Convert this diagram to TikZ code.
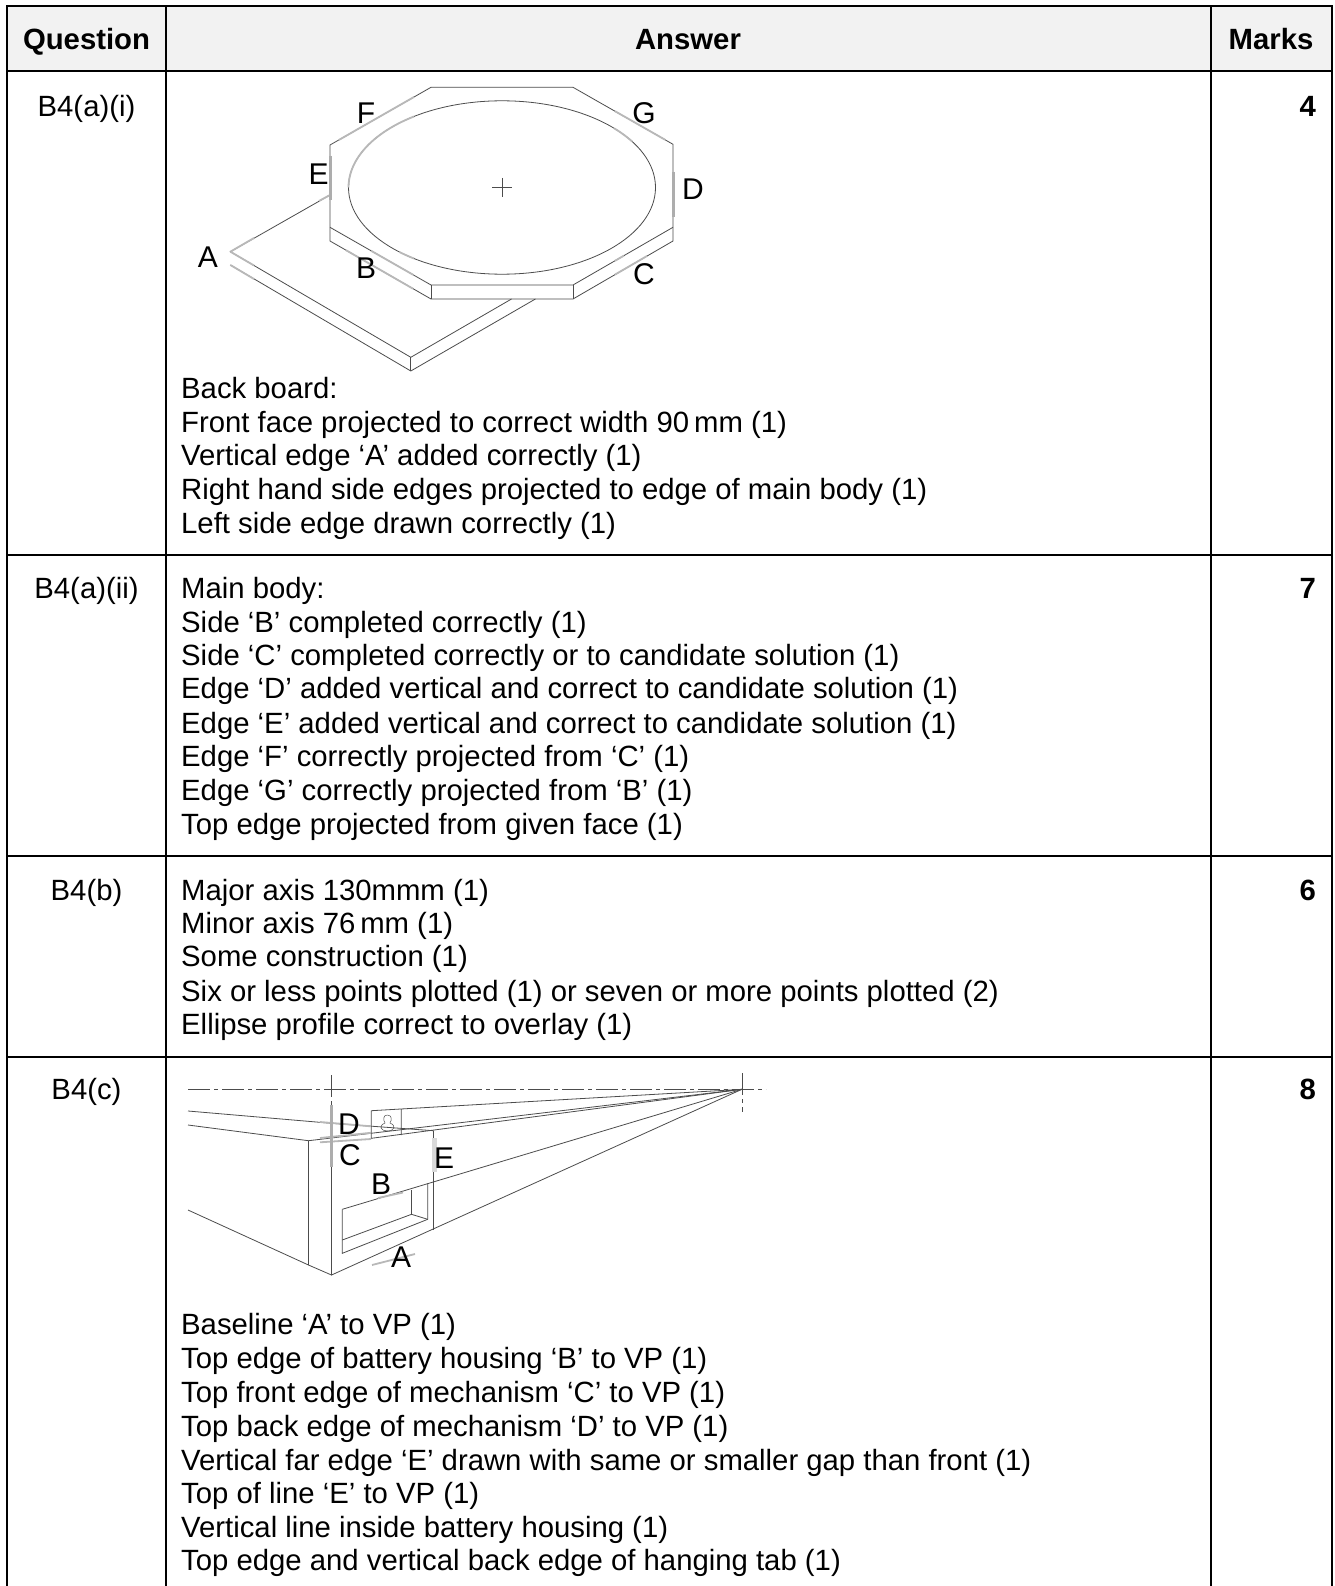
\documentclass[tikz,border=0pt]{standalone}
\usepackage{fontspec}
\setmainfont{Liberation Sans}
\tikzset{
  x=1pt,y=-1pt,
  rule/.style={draw=black,line width=1.6pt},
  ink/.style={draw=black!70,line width=0.8pt},
  fine/.style={draw=black!70,line width=0.5pt},
  hilite/.style={draw=black!28,line width=1.8pt},
  hilitethick/.style={draw=black!32,line width=3pt},
  hilitewide/.style={draw=black!15,line width=5pt},
  dashdot/.style={draw=black!70,line width=0.7pt,dash pattern=on 22pt off 4pt on 4pt off 4pt},
  body/.style={inner sep=0pt,anchor=base west,font=\fontsize{29.3}{33}\selectfont},
  cell/.style={inner sep=0pt,anchor=base,font=\fontsize{29.3}{33}\selectfont},
  head/.style={inner sep=0pt,anchor=base,font=\fontsize{29.3}{33}\selectfont\bfseries},
  score/.style={inner sep=0pt,anchor=base east,font=\fontsize{29.3}{33}\selectfont\bfseries},
  tag/.style={inner sep=0pt,anchor=center,font=\fontsize{30}{33}\selectfont}
}
\begin{document}
\begin{tikzpicture}
\useasboundingbox (0,0) rectangle (1334,1586);
\fill[white] (0,0) rectangle (1334,1586);
\fill[black!5] (7,6) rectangle (1332,71);
% table rules
\coordinate (tl) at (7,6); \coordinate (tr) at (1332,6);
\coordinate (bl) at (7,1586); \coordinate (br) at (1332,1586);
\draw[rule] (bl) -- (tl) -- (tr) -- (br);
\draw[rule] (166,6) -- (166,1586);
\draw[rule] (1211,6) -- (1211,1586);
\draw[rule] (7,71) -- (1332,71);
\draw[rule] (7,555) -- (1332,555);
\draw[rule] (7,856) -- (1332,856);
\draw[rule] (7,1057) -- (1332,1057);
% header
\node[head] (hq) at (86.5,50) {Question};
\node[head] (ha) at (688,50) {Answer};
\node[head] (hm) at (1271,50) {Marks};
% question cells
\node[cell] (q1) at (86.5,117) {B4(a)(i)};
\node[cell] (q2) at (86.5,598.6) {B4(a)(ii)};
\node[cell] (q3) at (86.5,900) {B4(b)};
\node[cell] (q4) at (86.5,1099) {B4(c)};
\node[score] (m1) at (1316,117) {4};
\node[score] (m2) at (1316,598.6) {7};
\node[score] (m3) at (1316,900) {6};
\node[score] (m4) at (1316,1099) {8};
% answers
\node[body] (a1) at (181,398.4) {Back board:};
\node[body] (a2) at (181,432) {Front face projected to correct width 90\,mm (1)};
\node[body] (a3) at (181,465.6) {Vertical edge ‘A’ added correctly (1)};
\node[body] (a4) at (181,499) {Right hand side edges projected to edge of main body (1)};
\node[body] (a5) at (181,533) {Left side edge drawn correctly (1)};
\node[body] (b1) at (181,598.6) {Main body:};
\node[body] (b2) at (181,632) {Side ‘B’ completed correctly (1)};
\node[body] (b3) at (181,665.4) {Side ‘C’ completed correctly or to candidate solution (1)};
\node[body] (b4) at (181,698.8) {Edge ‘D’ added vertical and correct to candidate solution (1)};
\node[body] (b5) at (181,733.1) {Edge ‘E’ added vertical and correct to candidate solution (1)};
\node[body] (b6) at (181,766.5) {Edge ‘F’ correctly projected from ‘C’ (1)};
\node[body] (b7) at (181,800.9) {Edge ‘G’ correctly projected from ‘B’ (1)};
\node[body] (b8) at (181,834.3) {Top edge projected from given face (1)};
\node[body] (c1) at (181,900) {Major axis 130mmm (1)};
\node[body] (c2) at (181,933.4) {Minor axis 76\,mm (1)};
\node[body] (c3) at (181,966.8) {Some construction (1)};
\node[body] (c4) at (181,1001.2) {Six or less points plotted (1) or seven or more points plotted (2)};
\node[body] (c5) at (181,1034.5) {Ellipse profile correct to overlay (1)};
\node[body] (d1) at (181,1334.9) {Baseline ‘A’ to VP (1)};
\node[body] (d2) at (181,1368.3) {Top edge of battery housing ‘B’ to VP (1)};
\node[body] (d3) at (181,1402.6) {Top front edge of mechanism ‘C’ to VP (1)};
\node[body] (d4) at (181,1436) {Top back edge of mechanism ‘D’ to VP (1)};
\node[body] (d5) at (181,1470.4) {Vertical far edge ‘E’ drawn with same or smaller gap than front (1)};
\node[body] (d6) at (181,1503.8) {Top of line ‘E’ to VP (1)};
\node[body] (d7) at (181,1537.2) {Vertical line inside battery housing (1)};
\node[body] (d8) at (181,1570.6) {Top edge and vertical back edge of hanging tab (1)};
% --- isometric drawing
\draw[ink] (330,145) -- (431,87.3) -- (573,87.3) -- (673,144.3) -- (673,241) -- (573,299) -- (431,299) -- (330,241) -- cycle;
\draw[ink] (330,227.3) -- (431,285) -- (573,285) -- (673,227.3);
\draw[ink] (431,285) -- (431,299) (573,285) -- (573,299);
\draw[ink] (502,187.5) ellipse [x radius=153.5,y radius=86.7];
\draw[fine] (492,187.5) -- (512,187.5) (502,178) -- (502,197);
\draw[ink] (330,195) -- (230.4,251.7) -- (410.8,357.3) -- (511.5,299);
\draw[ink] (230.4,265) -- (410.8,371) -- (535.4,299);
\draw[ink] (410.8,357.3) -- (410.8,371);
% highlights
\draw[hilite] (339,139.9) -- (414,97);
\draw[hilite] plot[domain=125:180,smooth] ({502+153.5*cos(\x)},{187.5-86.7*sin(\x)});
\draw[hilite] plot[domain=32:43,smooth] ({502+153.5*cos(\x)},{187.5-86.7*sin(\x)});
\draw[hilite] plot[domain=228:235,smooth] ({502+153.5*cos(\x)},{187.5-86.7*sin(\x)});
\draw[hilite] (615,111.2) -- (665,139.7);
\draw[hilite] (371,250.7) -- (413,274.7) (346,250.2) -- (413,288.7);
\draw[hilite] (615,274.6) -- (647,256) (615,260.8) -- (624,255.6);
\draw[hilite] (230.4,251.7) -- (254,238) (230.4,251.7) -- (254,265.5) (230.4,265) -- (254,279);
\draw[hilite] (319,201) -- (330,195);
\draw[hilitethick] (330,156) -- (330,200);
\draw[hilitethick] (673,172) -- (673,217);
\node[tag] (la) at (208,257) {A};
\node[tag] (lb) at (366,268) {B};
\node[tag] (lc) at (644,274) {C};
\node[tag] (ld) at (693,189) {D};
\node[tag] (le) at (318.6,174) {E};
\node[tag] (lf) at (366,113) {F};
\node[tag] (lg) at (644,113) {G};
% --- perspective drawing
\coordinate (vp) at (741.9,1089.3);
\coordinate (corner) at (331.5,1275);
\coordinate (lt) at (308.5,1140.7);
\coordinate (lb2) at (308.5,1265);
\draw[dashdot] (188,1089.3) -- (766,1089.3);
\draw[dashdot] (331.5,1075) -- (331.5,1123);
\draw[dashdot] (741.9,1073) -- (741.9,1112);
\draw[ink] (188,1125) -- (lt) -- (vp);
\draw[ink] (188,1111) -- (331.5,1123.3) -- (433.5,1130.7);
\draw[ink] (lt) -- (lb2) -- (corner) -- (331.5,1123.3);
\draw[ink] (188,1210) -- (lb2);
\draw[ink] (corner) -- (vp);
\draw[ink] (342.3,1209.3) -- (vp);
\draw[ink] (433.5,1130.7) -- (433.5,1230);
\draw[ink] (342.3,1209.3) -- (342.3,1253.3) -- (427.7,1219.3) -- (427.7,1183.3);
\draw[ink] (342.3,1240) -- (411.5,1214.3) -- (427.7,1219.3) (411.5,1214.3) -- (411.5,1190);
\draw[ink] (371.3,1110.7) -- (vp) (371.3,1110.7) -- (371.3,1138.3) -- (vp) (401.3,1109) -- (401.3,1135);
\draw[fine] (387.3,1115) .. controls (383,1115) and (383,1120) .. (385,1123) .. controls (378,1126) and (381,1131) .. (387.3,1131) .. controls (394,1131) and (397,1126) .. (390,1123) .. controls (392,1120) and (392,1115) .. (387.3,1115) -- cycle;
\draw[hilite] (320,1122) -- (371,1126.3);
\draw[hilite] (320,1142.3) -- (371,1139);
\draw[hilite] (320,1138) -- (371,1132.8);
\draw[hilite] (378,1198) -- (403,1192.5);
\draw[hilite] (372,1265) -- (415,1254);
\draw[hilitethick] (331.5,1105) -- (331.5,1167);
\draw[hilitewide] (434,1138) -- (434,1172);
\node[tag] (pa) at (401,1257) {A};
\node[tag] (pb) at (381,1184) {B};
\node[tag] (pc) at (350,1155) {C};
\node[tag] (pd) at (349,1124) {D};
\node[tag] (pe) at (444,1158) {E};
\end{tikzpicture}
\end{document}
